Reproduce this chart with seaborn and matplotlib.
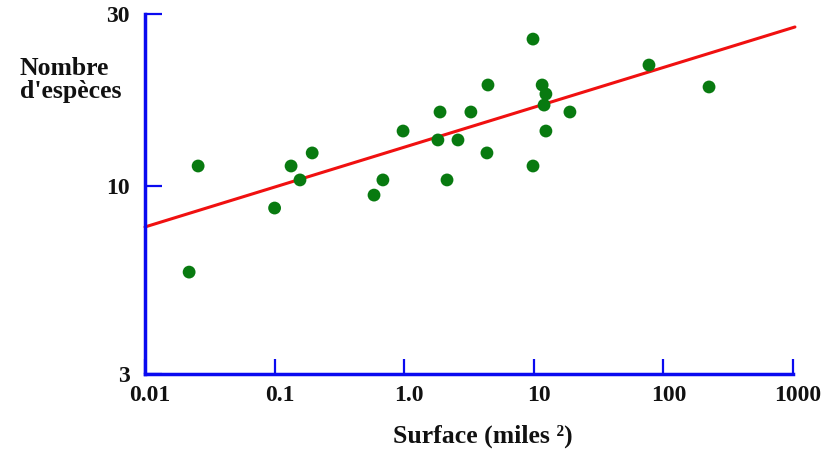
import matplotlib
matplotlib.use("Agg")
import matplotlib.pyplot as plt
import matplotlib.transforms as mtransforms
import seaborn as sns
import pandas as pd

# Island area (square miles) vs number of species
area = [0.0257, 0.0219, 0.100, 0.134, 0.157, 0.195, 0.585, 0.685, 0.98,
        1.89, 1.82, 2.14, 2.60, 3.27, 4.43, 4.35, 9.86, 9.86, 11.6, 12.4,
        12.0, 12.4, 19.0, 77.4, 225.0]
species = [11.36, 5.76, 8.68, 11.36, 10.39, 12.35, 9.43, 10.39, 14.21,
           16.05, 13.42, 10.39, 13.42, 16.05, 19.08, 12.35, 25.6, 11.36, 19.08, 18.01,
           16.78, 14.21, 16.05, 21.68, 18.84]

# regression line end points
fit_x = [0.01, 1035.0]
fit_y = [7.69, 27.66]

x_ticks = [0.01, 0.1, 1.0, 10, 100, 1000]
x_labels = ["0.01", "0.1", "1.0", "10", "100", "1000"]
y_ticks = [3, 10, 30]
y_labels = ["3", "10", "30"]

df = pd.DataFrame({"area": area, "species": species})
fit = pd.DataFrame({"x": fit_x, "y": fit_y})

sns.set_style("white")
plt.rcParams["font.family"] = ["Liberation Serif", "DejaVu Serif"]

BLUE = "#0a0af0"
GREEN = "#087a10"
RED = "#f01010"

fig = plt.figure(figsize=(8.29, 4.5), dpi=100)
ax = fig.add_axes([145 / 829, 1 - 374 / 450, (793 - 145) / 829, (374 - 14.3) / 450])

sns.lineplot(data=fit, x="x", y="y", ax=ax, color=RED, linewidth=2.2,
             clip_on=False, zorder=2)
sns.scatterplot(data=df, x="area", y="species", ax=ax, color=GREEN, s=85,
                edgecolor="none", zorder=3, clip_on=False)

ax.set_xscale("log")
ax.set_yscale("log")
ax.set_xlim(0.01, 1000)
ax.set_ylim(3, 30)
ax.set_xticks(x_ticks)
ax.set_xticklabels(x_labels)
ax.set_yticks(y_ticks)
ax.set_yticklabels(y_labels)
ax.xaxis.set_minor_locator(matplotlib.ticker.NullLocator())
ax.yaxis.set_minor_locator(matplotlib.ticker.NullLocator())

for s in ["top", "right"]:
    ax.spines[s].set_visible(False)
for s in ["left", "bottom"]:
    ax.spines[s].set_color(BLUE)
    ax.spines[s].set_linewidth(2.5)

ax.tick_params(axis="both", direction="in", colors=BLUE, width=1.6,
               labelcolor="#111111", labelsize=17, bottom=True, left=True)
ax.tick_params(axis="x", length=10.5, pad=8)
ax.tick_params(axis="y", length=12, pad=11)
shift = mtransforms.ScaledTranslation(5 / 100, 0, fig.dpi_scale_trans)
for lab in ax.get_xticklabels():
    lab.set_fontweight("bold")
    lab.set_transform(lab.get_transform() + shift)
for lab in ax.get_yticklabels():
    lab.set_fontweight("bold")

ax.set_xlabel("")
ax.set_ylabel("")

fig.text(393 / 829, 1 - 436 / 450, "Surface (miles ²)", fontsize=18.5,
         fontweight="bold", ha="left", va="center", color="#111111")
fig.text(20 / 829, 1 - 80 / 450, "Nombre\nd'espèces", fontsize=18.5,
         fontweight="bold", ha="left", va="center", color="#111111",
         linespacing=1.05)

fig.savefig("out.png", dpi=100)
